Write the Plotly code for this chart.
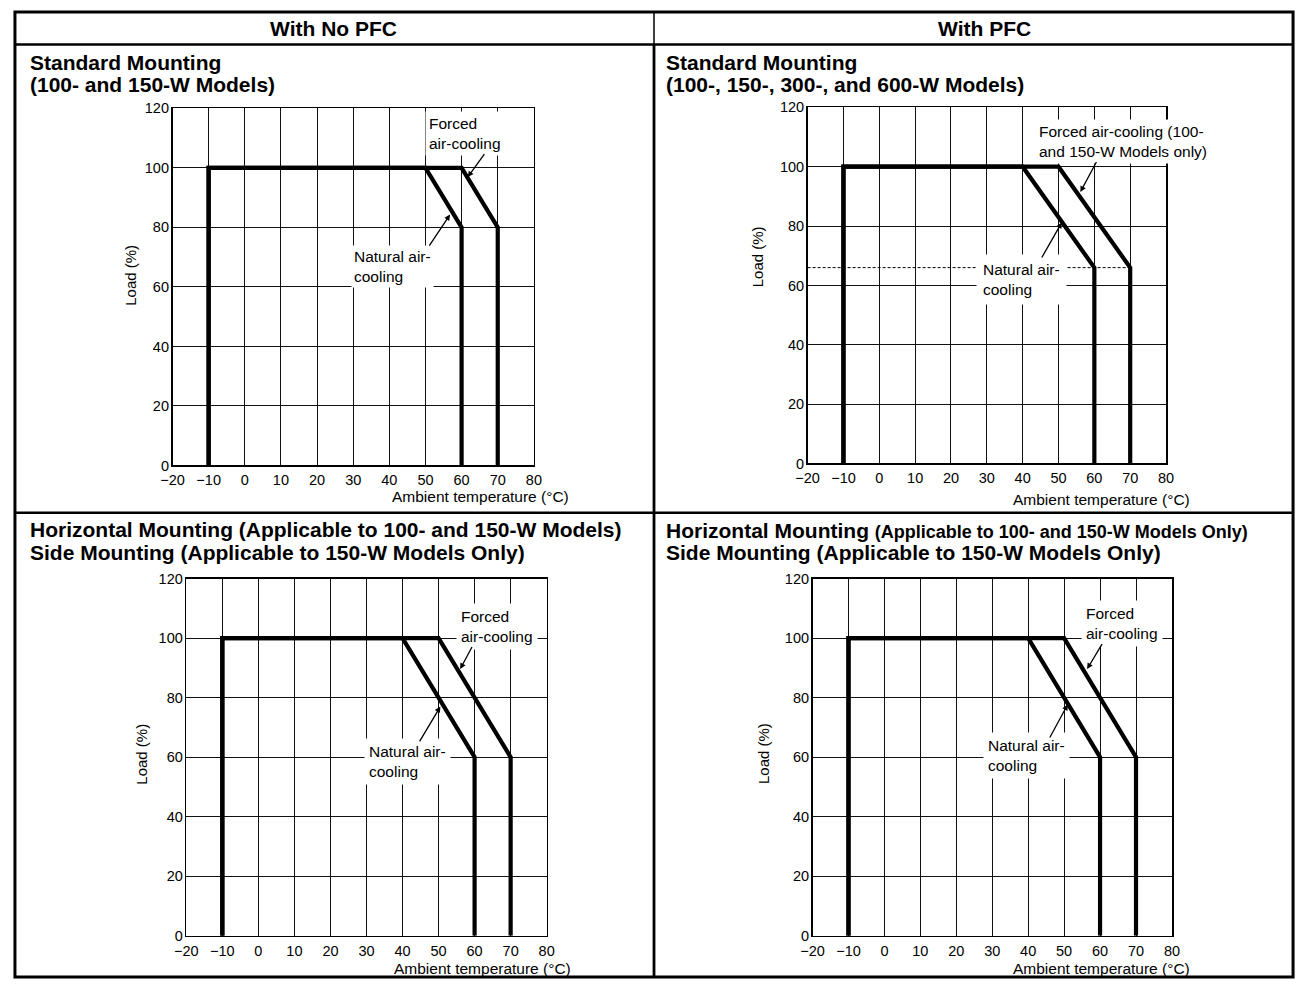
import plotly.graph_objects as go

# ---------------- data ----------------
x_tick_vals = [-20, -10, 0, 10, 20, 30, 40, 50, 60, 70, 80]
x_tick_text = ["\u221220", "\u221210", "0", "10", "20", "30", "40", "50", "60", "70", "80"]
y_tick_vals = [0, 20, 40, 60, 80, 100, 120]
y_tick_text = ["0", "20", "40", "60", "80", "100", "120"]

# Top-left: With No PFC, Standard Mounting
nopfc_std_nat_t = [-10, -10, 50, 60, 60]
nopfc_std_nat_load = [0, 100, 100, 80, 0]
nopfc_std_forced_t = [-10, -10, 60, 70, 70]
nopfc_std_forced_load = [0, 100, 100, 80, 0]

# Top-right: With PFC, Standard Mounting
pfc_std_nat_t = [-10, -10, 40, 60, 60]
pfc_std_nat_load = [0, 100, 100, 66, 0]
pfc_std_forced_t = [-10, -10, 50, 70, 70]
pfc_std_forced_load = [0, 100, 100, 66, 0]
pfc_std_ref_t = [-20, 70]
pfc_std_ref_load = [66, 66]

# Bottom-left: With No PFC, Horizontal / Side Mounting
nopfc_hor_nat_t = [-10, -10, 40, 60, 60]
nopfc_hor_nat_load = [0, 100, 100, 60, 0]
nopfc_hor_forced_t = [-10, -10, 50, 70, 70]
nopfc_hor_forced_load = [0, 100, 100, 60, 0]

# Bottom-right: With PFC, Horizontal / Side Mounting
pfc_hor_nat_t = [-10, -10, 40, 60, 60]
pfc_hor_nat_load = [0, 100, 100, 60, 0]
pfc_hor_forced_t = [-10, -10, 50, 70, 70]
pfc_hor_forced_load = [0, 100, 100, 60, 0]

# ---------------- layout helpers ----------------
W, H = 1305, 987
FONT = "Liberation Sans, Arial, Helvetica, sans-serif"


def px(x):
    return x / W


def py(y):
    return 1 - y / H


# plot boxes in pixels: (left, right, top, bottom)
boxes = {
    1: (163, 530, 102, 465),
    2: (808, 1172, 101, 463),
    3: (177, 543, 580, 943),
    4: (813, 1178, 580, 943),
}

fig = go.Figure()

series = {
    1: [(nopfc_std_nat_t, nopfc_std_nat_load), (nopfc_std_forced_t, nopfc_std_forced_load)],
    2: [(pfc_std_nat_t, pfc_std_nat_load), (pfc_std_forced_t, pfc_std_forced_load)],
    3: [(nopfc_hor_nat_t, nopfc_hor_nat_load), (nopfc_hor_forced_t, nopfc_hor_forced_load)],
    4: [(pfc_hor_nat_t, pfc_hor_nat_load), (pfc_hor_forced_t, pfc_hor_forced_load)],
}

for k in range(1, 5):
    xa = "x" if k == 1 else f"x{k}"
    ya = "y" if k == 1 else f"y{k}"
    if k == 2:
        fig.add_trace(go.Scatter(x=pfc_std_ref_t, y=pfc_std_ref_load, mode="lines",
                                 line=dict(color="black", width=1, dash="3px,2px"),
                                 xaxis=xa, yaxis=ya, hoverinfo="skip"))
    for xs, ys in series[k]:
        fig.add_trace(go.Scatter(x=xs, y=ys, mode="lines",
                                 line=dict(color="black", width=4.2),
                                 xaxis=xa, yaxis=ya, hoverinfo="skip"))

axis_common = dict(showgrid=True, gridcolor="#111", gridwidth=1, showline=True, mirror=True,
                   linecolor="black", linewidth=1.6, zeroline=False, fixedrange=True,
                   tickfont=dict(family=FONT, size=14.5, color="black"), ticks="")

layout = dict(width=W, height=H, margin=dict(l=0, r=0, t=0, b=0),
              paper_bgcolor="white", plot_bgcolor="white", showlegend=False,
              font=dict(family=FONT, color="black"))

for k, (l, r, t, b) in boxes.items():
    xname = "xaxis" if k == 1 else f"xaxis{k}"
    yname = "yaxis" if k == 1 else f"yaxis{k}"
    layout[xname] = dict(axis_common, domain=[px(l), px(r)], range=[-20, 80],
                         tickmode="array", tickvals=x_tick_vals, ticktext=x_tick_text,
                         anchor="y" if k == 1 else f"y{k}", ticklabelstandoff=1)
    layout[yname] = dict(axis_common, domain=[py(b), py(t)], range=[0, 120],
                         tickmode="array", tickvals=y_tick_vals, ticktext=y_tick_text,
                         anchor="x" if k == 1 else f"x{k}", ticklabelstandoff=-1)

# extra tick label 66 for top-right chart (no grid line)
layout["yaxis5"] = dict(overlaying="y2", anchor="x2", side="left", range=[0, 120],
                        tickmode="array", tickvals=[66], ticktext=["66"], showgrid=False,
                        showline=False, zeroline=False, fixedrange=True, ticks="",
                        ticklabelstandoff=-1,
                        tickfont=dict(family=FONT, size=14.5, color="black"))

fig.update_layout(**layout)

ann = []
shapes = []

# ---- table ----
LC = "black"
shapes.append(dict(type="rect", xref="paper", yref="paper", x0=px(3), x1=px(1301), y0=py(4), y1=py(985),
                   line=dict(color=LC, width=3)))
shapes.append(dict(type="line", xref="paper", yref="paper", x0=px(3), x1=px(1301), y0=py(37), y1=py(37),
                   line=dict(color=LC, width=2.5)))
shapes.append(dict(type="line", xref="paper", yref="paper", x0=px(652), x1=px(652), y0=py(4), y1=py(37),
                   line=dict(color=LC, width=1.5)))
shapes.append(dict(type="line", xref="paper", yref="paper", x0=px(652), x1=px(652), y0=py(37), y1=py(985),
                   line=dict(color=LC, width=2.8)))
shapes.append(dict(type="line", xref="paper", yref="paper", x0=px(3), x1=px(1301), y0=py(513), y1=py(513),
                   line=dict(color=LC, width=2.5)))
fig.update_layout(shapes=shapes)


def ptext(text, x, y, size, xanchor="left", bold=False, angle=0):
    ann.append(dict(text=f"<b>{text}</b>" if bold else text, x=px(x), y=py(y), xref="paper", yref="paper",
                    xanchor=xanchor, yanchor="middle", showarrow=False, textangle=angle,
                    font=dict(family=FONT, size=size, color="black")))


# headers
ptext("With No PFC", 327, 21, 21, xanchor="center", bold=True)
ptext("With PFC", 988, 21, 21, xanchor="center", bold=True)

# cell titles
ptext("Standard Mounting", 16, 55, 21, bold=True)
ptext("(100- and 150-W Models)", 16, 78, 21, bold=True)
ptext("Standard Mounting", 662, 55, 21, bold=True)
ptext("(100-, 150-, 300-, and 600-W Models)", 662, 78, 21, bold=True)
ptext("Horizontal Mounting (Applicable to 100- and 150-W Models)", 16, 530, 21, bold=True)
ptext("Side Mounting (Applicable to 150-W Models Only)", 16, 553, 21, bold=True)
ann.append(dict(text="<b>Horizontal Mounting <span style='font-size:18px'>(Applicable to 100- and 150-W Models Only)</span></b>",
                x=px(662), y=py(531), xref="paper", yref="paper", xanchor="left", yanchor="middle",
                showarrow=False, font=dict(family=FONT, size=21, color="black")))
ptext("Side Mounting (Applicable to 150-W Models Only)", 662, 553, 21, bold=True)

# axis titles
for x, y in [(120, 272), (758, 253), (132, 758), (763, 758)]:
    ptext("Load (%)", x, y, 15, xanchor="center", angle=-90)
for x, y in [(568, 497), (1198, 500), (570, 976), (1198, 976)]:
    ptext("Ambient temperature (\u00b0C)", x, y, 15.5, xanchor="right")


# ---- chart annotations ----
def dtext(k, text, x, y, pad=2):
    xr = "x" if k == 1 else f"x{k}"
    yr = "y" if k == 1 else f"y{k}"
    ann.append(dict(text=text, x=x, y=y, xref=xr, yref=yr, xanchor="left", yanchor="middle",
                    align="left", showarrow=False, bgcolor="white", borderpad=pad,
                    font=dict(family=FONT, size=15.5, color="black")))


def arrow(k, hx, hy, tx, ty):
    xr = "x" if k == 1 else f"x{k}"
    yr = "y" if k == 1 else f"y{k}"
    ann.append(dict(text="", x=hx, y=hy, ax=tx, ay=ty, xref=xr, yref=yr, axref=xr, ayref=yr,
                    showarrow=True, arrowhead=2, arrowsize=0.9, arrowwidth=1.3, arrowcolor="black",
                    standoff=0, startstandoff=0))


# chart 1
dtext(1, "Forced<br>air-cooling", 49.8, 111.5, pad=3)
dtext(1, "Natural air-<br>cooling", 29.3, 66.8, pad=2)
arrow(1, 61.7, 96.9, 66.6, 105.1)
arrow(1, 56.8, 84.3, 50.8, 73.4)
# chart 2
dtext(2, "Forced air-cooling (100-<br>and 150-W Models only)", 43.5, 108.4, pad=3)
dtext(2, "Natural air-<br>cooling", 27.0, 62.0, pad=6)
arrow(2, 56.1, 91.5, 60.8, 102.1)
arrow(2, 50.9, 81.2, 45.1, 68.9)
# chart 3
dtext(3, "Forced<br>air-cooling", 54.9, 103.8, pad=4)
dtext(3, "Natural air-<br>cooling", 29.2, 58.7, pad=4)
arrow(3, 56.0, 89.6, 59.5, 97.5)
arrow(3, 50.5, 77.0, 44.5, 64.8)
# chart 4
dtext(4, "Forced<br>air-cooling", 54.8, 105.0, pad=4)
dtext(4, "Natural air-<br>cooling", 27.4, 60.7, pad=4)
arrow(4, 56.4, 89.6, 60.8, 98.5)
arrow(4, 51.0, 77.7, 45.8, 66.1)

fig.update_layout(annotations=ann)

post = ("document.documentElement.style.margin='0';"
        "document.body.style.margin='0';"
        "document.body.style.padding='0';"
        "document.body.style.overflow='hidden';")

fig.write_html("out.html", config={"displayModeBar": False, "staticPlot": True},
               post_script=post)
